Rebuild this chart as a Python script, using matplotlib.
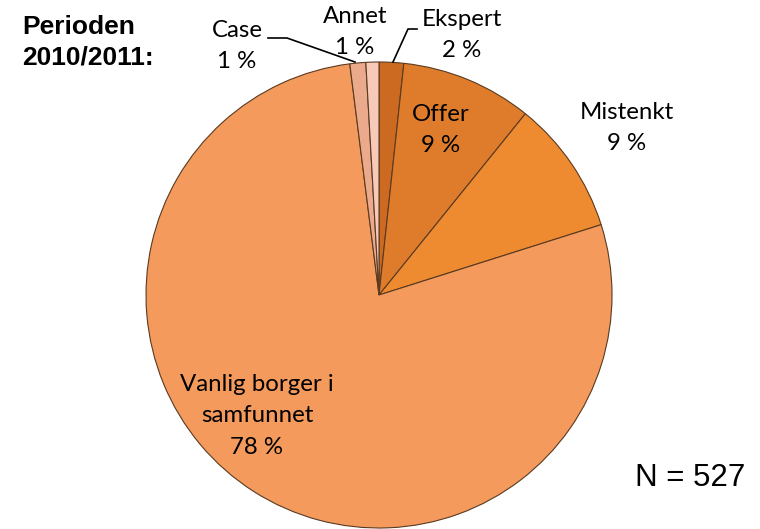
import matplotlib
matplotlib.use("Agg")
import matplotlib.pyplot as plt

categories = ["Ekspert", "Offer", "Mistenkt", "Vanlig borger i\nsamfunnet", "Case", "Annet"]
values = [1.7, 9.1, 9.3, 77.8, 1.1, 0.9]
colors = ["#CC6A22", "#DE7C2C", "#EE8B30", "#F39A5C", "#EBAA8C", "#F6C9B8"]

W, H = 760, 529
fig = plt.figure(figsize=(W / 100, H / 100), dpi=100)
ax = fig.add_axes([0, 0, 1, 1])

def Y(p):
    return H - p

ax.pie(values, colors=colors, startangle=90, counterclock=False,
       center=(379, Y(295)), radius=233, frame=True,
       wedgeprops=dict(edgecolor="#5a3a20", linewidth=0.8))
ax.set_xlim(0, W)
ax.set_ylim(0, H)
ax.set_aspect("equal")
ax.axis("off")

lab_font = dict(family=["Lato", "DejaVu Sans"], fontsize=17.3, color="black",
                ha="center", va="center", linespacing=1.62)
pct = [f"{round(v):d} %" for v in values]

ax.text(441, Y(130), f"{categories[1]}\n{pct[1]}", **lab_font)
ax.text(627, Y(128), f"{categories[2]}\n{pct[2]}", **lab_font)
ax.text(257, Y(416), f"{categories[3]}\n{pct[3]}", **lab_font)
ax.text(462, Y(35), f"{categories[0]}\n{pct[0]}", **lab_font)
ax.text(355, Y(32), f"{categories[5]}\n{pct[5]}", **lab_font)
ax.text(237, Y(46), f"{categories[4]}\n{pct[4]}", **lab_font)

ax.plot([268, 287, 355], [Y(38), Y(38), Y(62)], color="black", lw=1.2)
ax.plot([417, 408, 393], [Y(29), Y(29), Y(62)], color="black", lw=1.2)

ax.text(22, Y(42), "Perioden\n2010/2011:", family=["Liberation Sans", "DejaVu Sans"],
        fontsize=19, fontweight="bold", ha="left", va="center", linespacing=1.36)
ax.text(690, Y(478), "N = 527", family=["Liberation Sans", "DejaVu Sans"],
        fontsize=22.5, ha="center", va="center")

fig.savefig("out.png", dpi=100)
